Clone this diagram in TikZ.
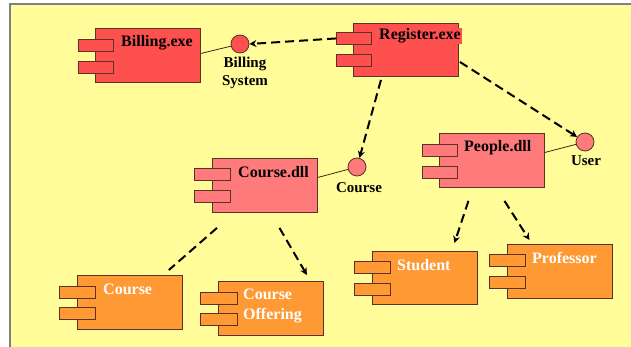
\documentclass[tikz,border=0pt]{standalone}
\usepackage{fontspec}
\setmainfont{Liberation Serif}
\usetikzlibrary{arrows.meta}
\definecolor{bgyellow}{RGB}{255,252,153}
\definecolor{compred}{RGB}{255,80,80}
\definecolor{comppink}{RGB}{255,122,122}
\definecolor{comporange}{RGB}{255,153,51}
\definecolor{edgebrown}{RGB}{90,50,40}
\begin{document}
\begin{tikzpicture}[x=1pt,y=-1pt,
  box/.style={draw=edgebrown, line width=0.9pt, minimum width=105pt, minimum height=54pt, anchor=north west, inner sep=0pt},
  tab/.style={draw=edgebrown, line width=0.9pt, minimum width=35pt, minimum height=12pt, anchor=north west, inner sep=0pt},
  lolly/.style={circle, draw=edgebrown, line width=0.8pt, minimum size=18pt, inner sep=0pt},
  lbl/.style={font=\bfseries\fontsize{16}{20}\selectfont, inner sep=0pt, anchor=west},
  wlbl/.style={lbl, text=white},
  iflbl/.style={font=\bfseries\fontsize{15}{18}\selectfont, inner sep=0pt, align=center},
  iface/.style={draw=edgebrown!70!black, line width=0.8pt},
  depline/.style={line width=2pt, dash pattern=on 9pt off 5pt},
  dep/.style={depline, -{Stealth[length=7pt,width=7pt]}}
]
\useasboundingbox (0,0) rectangle (631,347);
\fill[white] (0,0) rectangle (631,347);
\fill[bgyellow] (10,4) rectangle (631,347);
\draw[gray, line width=1.5pt] (10,347) -- (10,4) -- (631,4);

% Billing.exe
\node[box, fill=compred] (bill) at (95,28) {};
\node[tab, fill=compred] (billt1) at (78,39) {};
\node[tab, fill=compred] (billt2) at (78,61) {};
\node[lbl] (billl) at (121,43) {Billing.exe};
\node[lolly, fill=compred] (bcirc) at (240,44) {};
\node[iflbl] (bcircl) at (245,73) {Billing\\System};
\draw[iface] ([shift={(0,-2)}]bill.east) -- (bcirc);

% Register.exe
\node[box, fill=compred, minimum height=53pt] (reg) at (353,23) {};
\node[tab, fill=compred] (regt1) at (336,32) {};
\node[tab, fill=compred] (regt2) at (336,54) {};
\node[lbl, fill=compred, inner sep=1pt] (regl) at (378,36) {Register.exe};

% People.dll
\node[box, fill=comppink] (ppl) at (439,133) {};
\node[tab, fill=comppink] (pplt1) at (422,144) {};
\node[tab, fill=comppink] (pplt2) at (422,166) {};
\node[lbl] (ppll) at (464,148) {People.dll};
\node[lolly, fill=comppink] (ucirc) at (585,142) {};
\node[iflbl] (ucircl) at (586,161) {User};
\draw[iface] ([shift={(0,-8)}]ppl.east) -- (ucirc);

% Course.dll
\node[box, fill=comppink] (cdll) at (212,158) {};
\node[tab, fill=comppink, minimum width=36pt] (cdllt1) at (194,168) {};
\node[tab, fill=comppink, minimum width=36pt] (cdllt2) at (194,190) {};
\node[lbl] (cdlll) at (238,172) {Course.dll};
\node[lolly, fill=comppink] (ccirc) at (357,167) {};
\node[iflbl] (ccircl) at (359,188) {Course};
\draw[iface] ([shift={(0,-8)}]cdll.east) -- (ccirc);

% Course
\node[box, fill=comporange] (crs) at (77,275) {};
\node[tab, fill=comporange, minimum width=36pt] (crst1) at (59,286) {};
\node[tab, fill=comporange, minimum width=36pt] (crst2) at (59,307) {};
\node[wlbl] (crsl) at (103,289) {Course};

% Course Offering
\node[box, fill=comporange] (coff) at (218,281) {};
\node[tab, fill=comporange, minimum width=37pt] (cofft1) at (200,292) {};
\node[tab, fill=comporange, minimum width=37pt] (cofft2) at (200,313) {};
\node[wlbl, align=left] (coffl) at (243,306) {Course\\Offering};

% Student
\node[box, fill=comporange, minimum height=53pt] (stu) at (372,251) {};
\node[tab, fill=comporange, minimum width=36pt] (stut1) at (354,261) {};
\node[tab, fill=comporange, minimum width=36pt] (stut2) at (354,283) {};
\node[wlbl] (stul) at (397,265) {Student};

% Professor
\node[box, fill=comporange] (prof) at (507,244) {};
\node[tab, fill=comporange, minimum width=36pt] (proft1) at (489,254) {};
\node[tab, fill=comporange, minimum width=36pt] (proft2) at (489,276) {};
\node[wlbl] (profl) at (532,258) {Professor};

% dependency end points
\coordinate (r2c) at ([shift={(-25,3)}]reg.south);
\coordinate (r2u) at ([shift={(1,12)}]reg.east);
\coordinate (d2c) at ([shift={(5,15)}]cdll.south west);
\coordinate (c2d) at ([shift={(-14,-5)}]crs.north east);
\coordinate (d2o) at ([shift={(14.5,15)}]cdll.south);
\coordinate (o2d) at ([shift={(-17,-6)}]coff.north east);
\coordinate (p2s) at ([shift={(-23.5,13)}]ppl.south);
\coordinate (s2p) at ([shift={(29.5,-8)}]stu.north);
\coordinate (p2f) at ([shift={(12.5,13)}]ppl.south);
\coordinate (f2p) at ([shift={(-30.5,-4)}]prof.north);

% dependencies
\draw[dep] (regt1.west) -- (bcirc.east);
\draw[dep] (r2c) -- (ccirc);
\draw[dep] (r2u) -- (ucirc);
\draw[depline] (d2c) -- (c2d);
\draw[dep] (d2o) -- (o2d);
\draw[dep] (p2s) -- (s2p);
\draw[dep] (p2f) -- (f2p);
\end{tikzpicture}
\end{document}
